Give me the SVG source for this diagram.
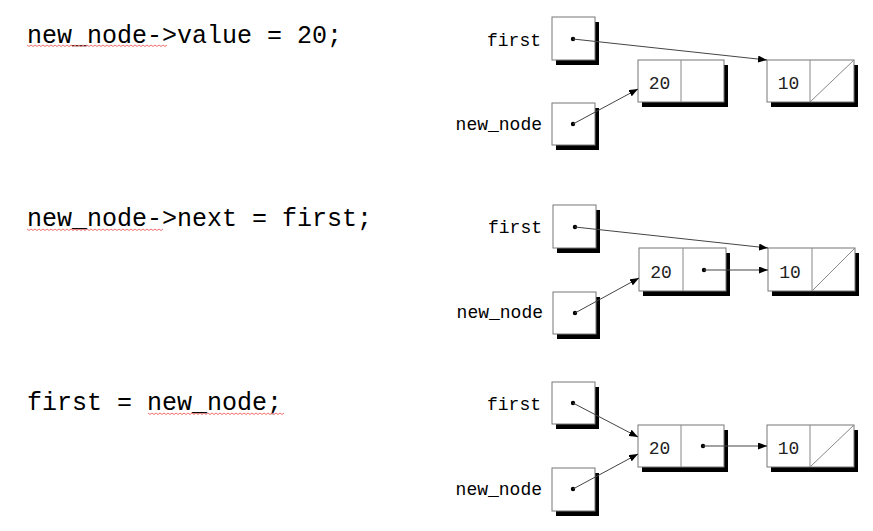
<svg xmlns="http://www.w3.org/2000/svg" width="873" height="531" viewBox="0 0 873 531">
<defs>
<style>
.code{font-family:"Liberation Mono","Courier New",monospace;font-size:25px;fill:#000}
.lbl{font-family:"Liberation Mono","Courier New",monospace;font-size:18px;fill:#000;text-anchor:end}
.num{font-family:"Liberation Mono","Courier New",monospace;font-size:18px;fill:#222;text-anchor:middle}
.sh{fill:#000}
.bx{fill:#fff;stroke:#777;stroke-width:1}
.dv{stroke:#888;stroke-width:1}
.dot{fill:#000}
.ptr{stroke:#444;stroke-width:1;fill:none;marker-end:url(#ah)}
.sq{stroke:#f07070;stroke-width:1;fill:none}
</style>
<marker id="ah" markerUnits="userSpaceOnUse" markerWidth="9" markerHeight="7" refX="9" refY="3.5" orient="auto">
<path d="M0,0 L9,3.5 L0,7 z" fill="#000"/>
</marker>
</defs>
<rect width="873" height="531" fill="#fff"/>

<g id="code">
<text class="code" x="27" y="43">new_node-&gt;value = 20;</text>
<text class="code" x="27" y="226">new_node-&gt;next = first;</text>
<text class="code" x="27" y="410">first = new_node;</text>
<path class="sq" d="M27,45 l2,1.5 l2,-1.5 l2,1.5 l2,-1.5 l2,1.5 l2,-1.5 l2,1.5 l2,-1.5 l2,1.5 l2,-1.5 l2,1.5 l2,-1.5 l2,1.5 l2,-1.5 l2,1.5 l2,-1.5 l2,1.5 l2,-1.5 l2,1.5 l2,-1.5 l2,1.5 l2,-1.5 l2,1.5 l2,-1.5 l2,1.5 l2,-1.5 l2,1.5 l2,-1.5 l2,1.5 l2,-1.5 l2,1.5 l2,-1.5 l2,1.5 l2,-1.5 l2,1.5 l2,-1.5 l2,1.5 l2,-1.5 l2,1.5 l2,-1.5 l2,1.5 l2,-1.5 l2,1.5 l2,-1.5 l2,1.5 l2,-1.5 l2,1.5 l2,-1.5 l2,1.5 l2,-1.5 l2,1.5 l2,-1.5 l2,1.5 l2,-1.5 l2,1.5 l2,-1.5 l2,1.5 l2,-1.5 l2,1.5 l2,-1.5 l2,1.5 l2,-1.5 l2,1.5 l2,-1.5 l2,1.5 l2,-1.5 l2,1.5 l2,-1.5 l2,1.5 l2,-1.5"/>
<path class="sq" d="M27,229 l2,1.5 l2,-1.5 l2,1.5 l2,-1.5 l2,1.5 l2,-1.5 l2,1.5 l2,-1.5 l2,1.5 l2,-1.5 l2,1.5 l2,-1.5 l2,1.5 l2,-1.5 l2,1.5 l2,-1.5 l2,1.5 l2,-1.5 l2,1.5 l2,-1.5 l2,1.5 l2,-1.5 l2,1.5 l2,-1.5 l2,1.5 l2,-1.5 l2,1.5 l2,-1.5 l2,1.5 l2,-1.5 l2,1.5 l2,-1.5 l2,1.5 l2,-1.5 l2,1.5 l2,-1.5 l2,1.5 l2,-1.5 l2,1.5 l2,-1.5 l2,1.5 l2,-1.5 l2,1.5 l2,-1.5 l2,1.5 l2,-1.5 l2,1.5 l2,-1.5 l2,1.5 l2,-1.5 l2,1.5 l2,-1.5 l2,1.5 l2,-1.5 l2,1.5 l2,-1.5 l2,1.5 l2,-1.5 l2,1.5 l2,-1.5 l2,1.5 l2,-1.5 l2,1.5 l2,-1.5 l2,1.5 l2,-1.5 l2,1.5 l2,-1.5"/>
<path class="sq" d="M148,413 l2,1.5 l2,-1.5 l2,1.5 l2,-1.5 l2,1.5 l2,-1.5 l2,1.5 l2,-1.5 l2,1.5 l2,-1.5 l2,1.5 l2,-1.5 l2,1.5 l2,-1.5 l2,1.5 l2,-1.5 l2,1.5 l2,-1.5 l2,1.5 l2,-1.5 l2,1.5 l2,-1.5 l2,1.5 l2,-1.5 l2,1.5 l2,-1.5 l2,1.5 l2,-1.5 l2,1.5 l2,-1.5 l2,1.5 l2,-1.5 l2,1.5 l2,-1.5 l2,1.5 l2,-1.5 l2,1.5 l2,-1.5 l2,1.5 l2,-1.5 l2,1.5 l2,-1.5 l2,1.5 l2,-1.5 l2,1.5 l2,-1.5 l2,1.5 l2,-1.5 l2,1.5 l2,-1.5 l2,1.5 l2,-1.5 l2,1.5 l2,-1.5 l2,1.5 l2,-1.5 l2,1.5 l2,-1.5 l2,1.5 l2,-1.5 l2,1.5 l2,-1.5 l2,1.5 l2,-1.5 l2,1.5 l2,-1.5 l2,1.5 l2,-1.5"/>
</g>

<!-- Panel 1 -->
<g id="p1-first">
<text class="lbl" x="541" y="46">first</text>
<rect class="sh" x="556" y="22" width="43" height="43"/>
<rect class="bx" x="552" y="17" width="43" height="43"/>
<circle class="dot" cx="573" cy="39" r="2.2"/>
</g>
<g id="p1-new_node">
<text class="lbl" x="542" y="130">new_node</text>
<rect class="sh" x="556" y="108" width="43" height="42"/>
<rect class="bx" x="552" y="103" width="43" height="42"/>
<circle class="dot" cx="573" cy="124" r="2.2"/>
</g>
<g id="p1-node20">
<rect class="sh" x="642" y="65" width="86" height="42"/>
<rect class="bx" x="638" y="60" width="86" height="42"/>
<line class="dv" x1="681" y1="60" x2="681" y2="102"/>
<text class="num" x="659.5" y="89">20</text>
</g>
<g id="p1-node10">
<rect class="sh" x="771" y="65" width="87" height="42"/>
<rect class="bx" x="767" y="60" width="87" height="42"/>
<line class="dv" x1="810" y1="60" x2="810" y2="102"/>
<line class="dv" x1="810" y1="102" x2="854" y2="60"/>
<text class="num" x="788.5" y="89">10</text>
</g>

<!-- Panel 2 -->
<g id="p2-first">
<text class="lbl" x="542" y="233">first</text>
<rect class="sh" x="557" y="210" width="43" height="43"/>
<rect class="bx" x="553" y="205" width="43" height="43"/>
<circle class="dot" cx="575" cy="227" r="2.2"/>
</g>
<g id="p2-new_node">
<text class="lbl" x="543" y="318">new_node</text>
<rect class="sh" x="557" y="297" width="43" height="42"/>
<rect class="bx" x="553" y="292" width="43" height="42"/>
<circle class="dot" cx="575" cy="313" r="2.2"/>
</g>
<g id="p2-node20">
<rect class="sh" x="643" y="253" width="87" height="43"/>
<rect class="bx" x="639" y="248" width="87" height="43"/>
<line class="dv" x1="683" y1="248" x2="683" y2="291"/>
<text class="num" x="661" y="278">20</text>
<circle class="dot" cx="704" cy="270" r="2.2"/>
</g>
<g id="p2-node10">
<rect class="sh" x="772" y="253" width="87" height="43"/>
<rect class="bx" x="768" y="248" width="87" height="43"/>
<line class="dv" x1="812" y1="248" x2="812" y2="291"/>
<line class="dv" x1="812" y1="291" x2="855" y2="248"/>
<text class="num" x="790" y="278">10</text>
</g>

<!-- Panel 3 -->
<g id="p3-first">
<text class="lbl" x="541" y="410">first</text>
<rect class="sh" x="556" y="387" width="43" height="42"/>
<rect class="bx" x="552" y="382" width="43" height="42"/>
<circle class="dot" cx="573" cy="403" r="2.2"/>
</g>
<g id="p3-new_node">
<text class="lbl" x="542" y="495">new_node</text>
<rect class="sh" x="556" y="473" width="43" height="43"/>
<rect class="bx" x="552" y="468" width="43" height="43"/>
<circle class="dot" cx="573" cy="489" r="2.2"/>
</g>
<g id="p3-node20">
<rect class="sh" x="642" y="430" width="86" height="42"/>
<rect class="bx" x="638" y="425" width="86" height="42"/>
<line class="dv" x1="681" y1="425" x2="681" y2="467"/>
<text class="num" x="659.5" y="454">20</text>
<circle class="dot" cx="703" cy="446" r="2.2"/>
</g>
<g id="p3-node10">
<rect class="sh" x="771" y="430" width="87" height="42"/>
<rect class="bx" x="767" y="425" width="87" height="42"/>
<line class="dv" x1="810" y1="425" x2="810" y2="467"/>
<line class="dv" x1="810" y1="467" x2="854" y2="425"/>
<text class="num" x="788.5" y="454">10</text>
</g>

<g id="connectors">
<line class="ptr" x1="573" y1="39" x2="767" y2="60"/>
<line class="ptr" x1="573" y1="124" x2="638" y2="89"/>
<line class="ptr" x1="575" y1="227" x2="768" y2="248"/>
<line class="ptr" x1="575" y1="313" x2="639" y2="278"/>
<line class="ptr" x1="704" y1="270" x2="768" y2="270"/>
<line class="ptr" x1="573" y1="403" x2="638" y2="437"/>
<line class="ptr" x1="573" y1="489" x2="638" y2="454"/>
<line class="ptr" x1="703" y1="446" x2="767" y2="446"/>
</g>
</svg>
